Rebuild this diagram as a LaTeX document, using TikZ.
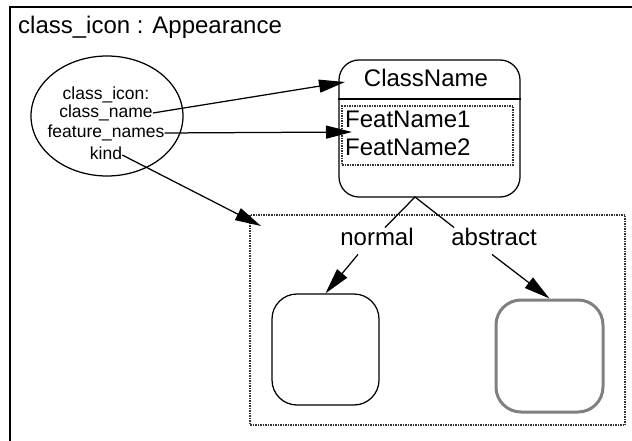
\documentclass[tikz,border=0pt]{standalone}
\usepackage{fontspec}
\setmainfont{Liberation Sans}
\usetikzlibrary{arrows.meta, shapes.geometric}
\definecolor{cc}{RGB}{128, 128, 128}
\tikzset{
  big/.style={font=\fontsize{24pt}{28pt}\selectfont, inner sep=0pt, text height=17.5pt, text depth=5pt},
  small/.style={font=\fontsize{17.5pt}{20pt}\selectfont, inner sep=0pt, text height=13pt, text depth=4pt},
  box/.style={draw=black, line width=1.25pt, rounded corners=20pt},
  dotbox/.style={draw=black!80, line width=1.2pt, dash pattern=on 1.5pt off 1pt},
  con/.style={line width=1.25pt, color=black},
  arr/.style={con, -{Triangle[length=26pt, width=13pt]}},
}

\begin{document}
\begin{tikzpicture}
\useasboundingbox (0pt, 0pt) rectangle (632pt, -441pt);
\clip (0pt, 0pt) rectangle (632pt, -441pt);
\draw [line width=1.5pt, color=black] (10pt, -460pt) -- (10pt, -7pt) -- (650pt, -7pt);
\node (0) [big, anchor=west] at (18pt, -27pt) {class\_icon : Appearance};
\node (1) [ellipse, draw=black, line width=1.25pt, minimum width=152pt, minimum height=120pt] at (107pt, -116pt) {};
\node (2) [small] at (106pt, -95pt) {class\_icon:};
\node (3) [small] at (106pt, -113pt) {class\_name};
\node (4) [small] at (106pt, -133pt) {feature\_names};
\node (5) [small] at (106pt, -155pt) {kind};
\node (6) [box, minimum width=181pt, minimum height=137pt] at (429.5pt, -128.5pt) {};
\node (7) [big] at (426pt, -80pt) {ClassName};
\node (8) [dotbox, minimum width=171pt, minimum height=59pt] at (427.5pt, -135.5pt) {};
\node (9) [big, anchor=west] at (345pt, -121pt) {FeatName1};
\node (10) [big, anchor=west] at (345pt, -149pt) {FeatName2};
\node (11) [dotbox, minimum width=375pt, minimum height=210pt] at (437.5pt, -320pt) {};
\node (12) [big] at (377pt, -239pt) {normal};
\node (13) [big] at (494pt, -239pt) {abstract};
\node (14) [box, rounded corners=25pt, minimum width=107pt, minimum height=111pt] at (325.5pt, -349.5pt) {};
\node (15) [box, draw=cc, line width=3pt, rounded corners=25pt, minimum width=107pt, minimum height=112pt] at (549.5pt, -356pt) {};
\coordinate (16) at (345pt, -82pt);
\coordinate (17) at (352pt, -132pt);
\coordinate (18) at (261pt, -226pt);
\coordinate (19) at (415pt, -197pt);
\coordinate (20) at (0pt, -99pt);
\draw [con] (6.west |- 20) to (6.east |- 20);
\draw [arr] (3.east) to (16);
\draw [arr] (4.east) to (17);
\draw [arr] (5.east) to (18);
\draw [con] ([xshift=8pt]12.north) to (19) to ([xshift=3pt]13.north west);
\draw [arr] ([xshift=-19pt, yshift=-4pt]12.south) to (14.north);
\draw [arr] ([xshift=-2pt, yshift=-4pt]13.south) to (15.north);
\end{tikzpicture}
\end{document}
